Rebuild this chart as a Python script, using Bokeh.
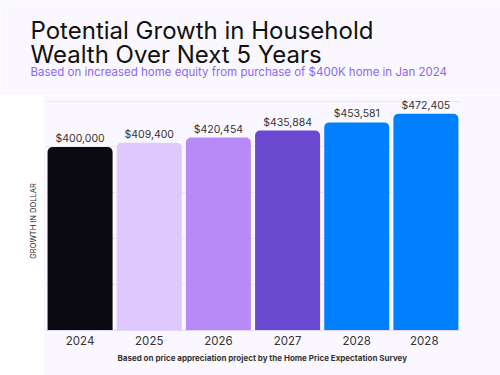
import math
from bokeh.plotting import figure
from bokeh.layouts import column, row
from bokeh.models import ColumnDataSource, Title, FixedTicker, Range1d
from bokeh.embed import file_html
from bokeh.resources import INLINE
from bokeh.core.properties import value

categories = ["2024", "2025", "2026", "2027", "2028", "2028 "]
tick_labels = ["2024", "2025", "2026", "2027", "2028", "2028"]
values = [400000, 409400, 420454, 435884, 453581, 472405]
colors = ["#0B0A10", "#DFC8FE", "#B78AF7", "#6A48D0", "#0080FF", "#0080FF"]
value_labels = ["$400,000", "$409,400", "$420,454", "$435,884", "$453,581", "$472,405"]
grid_ticks = [0, 100000, 200000, 300000, 400000, 500000]

title_lines = ["Potential Growth in Household", "Wealth Over Next 5 Years"]
subtitle = "Based on increased home equity from purchase of $400K home in Jan 2024"
y_label = "GROWTH IN DOLLAR"
x_label = "Based on price appreciation project by the Home Price Expectation Survey"

BG = "#FAF8FE"
FONT = "Inter"


def blank(fig, fill):
    fig.border_fill_color = fill
    fig.background_fill_color = fill
    fig.outline_line_color = None
    fig.xaxis.visible = False
    fig.yaxis.visible = False
    fig.xgrid.visible = False
    fig.ygrid.visible = False


# ---- title block (pixel coordinates, y down) ----
tf = figure(width=500, height=95, x_range=Range1d(0, 500), y_range=Range1d(95, 0),
            output_backend="svg", toolbar_location=None,
            min_border=0, min_border_left=0, min_border_right=0, min_border_top=0, min_border_bottom=0)
blank(tf, BG)
tf.text(x=[30, 30], y=[29.5, 53.5], text=title_lines, text_font=value(FONT), text_font_size="24px",
        text_color="#111111", text_baseline="alphabetic", text_align="left")
tf.text(x=[30], y=[71.5], text=[subtitle], text_font=value(FONT), text_font_size="11.5px",
        text_color="#8A68EE", text_baseline="alphabetic", text_align="left")

# ---- left white strip with y label ----
lf = figure(width=43, height=280, x_range=Range1d(0, 43), y_range=Range1d(0, 280),
            output_backend="svg", toolbar_location=None,
            min_border=0, min_border_left=0, min_border_right=0, min_border_top=0, min_border_bottom=0)
blank(lf, "white")
lf.text(x=[33], y=[131], text=[y_label], angle=math.pi / 2, text_font=value(FONT),
        text_font_size="7.5px", text_color="#222222", text_align="center", text_baseline="middle")

# ---- main chart ----
src = ColumnDataSource(dict(cat=categories, val=values, color=colors, lab=value_labels))

p = figure(width=457, height=280, x_range=categories, y_range=Range1d(0, 510000),
           output_backend="svg", toolbar_location=None, y_axis_location=None,
           min_border_left=2, min_border_right=40, min_border_top=1, min_border_bottom=45)
p.border_fill_color = BG
p.background_fill_color = BG
p.outline_line_color = None

p.vbar(x="cat", top="val", width=0.94, bottom=0, source=src, fill_color="color",
       line_color=None, border_radius=(5, 5, 0, 0))

p.text(x="cat", y="val", text="lab", source=src, text_align="center", text_baseline="bottom",
       y_offset=-2, text_font=value(FONT), text_font_size="10.5px", text_color="#333333")

p.xaxis.axis_line_color = "#E2D8F8"
p.xaxis.major_tick_line_color = None
p.xaxis.minor_tick_line_color = None
p.xaxis.major_tick_out = 0
p.xaxis.major_tick_in = 0
p.xaxis.major_label_text_font = FONT
p.xaxis.major_label_text_font_size = "11.5px"
p.xaxis.major_label_text_color = "#333333"
p.xaxis.major_label_standoff = 3
p.xaxis.major_label_overrides = {c: t for c, t in zip(categories, tick_labels)}

p.xgrid.grid_line_color = None
p.ygrid.ticker = FixedTicker(ticks=grid_ticks)
p.ygrid.grid_line_color = "#ECE8F4"
p.ygrid.grid_line_width = 1

xl = Title(text=x_label, align="left", offset=72, text_font=FONT, text_font_size="8px",
           text_font_style="bold", text_color="#333333", standoff=1)
p.add_layout(xl, "below")

layout = column(tf, row(lf, p, spacing=0), spacing=0)

open("out.html", "w").write(file_html(layout, INLINE))
